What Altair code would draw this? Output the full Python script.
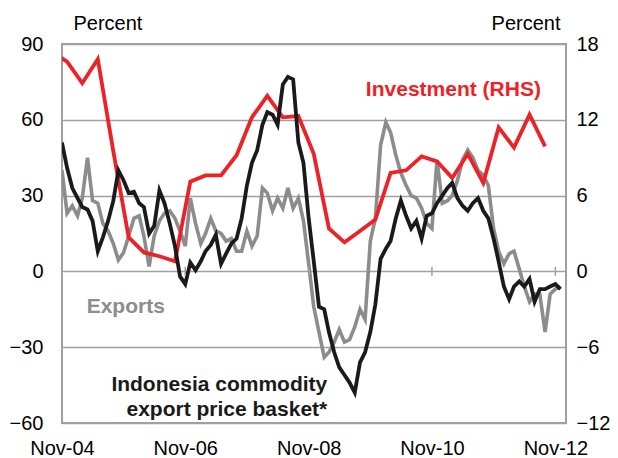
import altair as alt
import pandas as pd

# ---------------- data ----------------
months = pd.date_range("2004-11-01", periods=98, freq="MS")  # Nov-04 .. Dec-12

commodity = [51, 41, 33, 29, 25.5, 24.5, 20, 8, 13.5, 20,
             28, 40, 36, 31, 31.5, 27, 25.5, 15, 18, 32,
             27, 19, 10, -2, -5, 3.5, 0.5, 4, 8, 10.5,
             14.5, 3, 7, 11, 13, 21, 34, 43, 48, 58,
             63, 62, 58, 74, 77, 76, 51, 43, 21, 4,
             -14, -15, -24, -32, -38, -41, -44, -48, -36, -32,
             -24, -13, 5, 9, 12, 21, 28, 22, 17, 20,
             13, 22, 23, 27, 30, 33, 35, 29, 26, 24,
             27, 29, 24, 21, 13, 4, -6, -11, -6, -4,
             -6, -3, -12, -7, -7, -6, -5, -7]

exports = [40, 23, 26, 22, 29, 45, 28, 27, 19, 16,
           11, 4.5, 7.5, 14, 21, 22, 14, 2, 14, 20,
           23, 24, 21, 16, 10, 29, 19, 11, 15, 21,
           16, 15, 12, 13, 8, 8, 16, 10, 14, 33,
           31, 24, 29, 25, 33, 25, 29, 20, 3, -14,
           -24, -34, -32, -28, -23, -28, -27, -22, -15, -19,
           12, 21, 50, 59, 55, 46, 39, 34, 30, 29,
           25, 19, 17, 44, 27, 28, 30, 36, 44, 48,
           45, 40, 38, 34, 17, 8, 3, 7, 8, 1,
           -6, -12, -9, -9, -24, -9, -7, -6]

quarters = pd.date_range("2004-09-01", periods=33, freq="3MS")  # Sep-04 .. Sep-12
investment = [17.4, 16.6, 14.9, 16.8, 9.5, 2.7, 1.5, 1.2, 0.8, 7.1,
              7.6, 7.6, 9.2, 12.2, 13.9, 12.2, 12.3, 9.3, 3.4, 2.3,
              3.2, 4.1, 7.8, 8.0, 9.1, 8.7, 7.4, 9.3, 7.0, 11.4,
              9.8, 12.4, 9.9]

tick_dates = [(2004, 11), (2006, 11), (2008, 11), (2010, 11), (2012, 11)]
left_ticks = [-60, -30, 0, 30, 60, 90]
right_ticks = [-12, -6, 0, 6, 12, 18]

# ---------------- tables ----------------
monthly = pd.DataFrame({"date": months, "exports": exports, "commodity": commodity})
quarterly = pd.DataFrame({"date": quarters, "investment": investment})
ticks_df = pd.DataFrame({"date": [pd.Timestamp(y, m, 1) for y, m in tick_dates]})

FONT = "Liberation Sans"
GRAY = "#8c8c8e"
BLACK = "#1a1a1a"
RED = "#ec2227"
FRAME = "#a0a0a0"

x_enc = alt.X(
    "date:T",
    scale=alt.Scale(domain=[alt.DateTime(year=2004, month=11, date=1),
                            alt.DateTime(year=2013, month=1, date=3)]),
    axis=alt.Axis(values=[alt.DateTime(year=y, month=m, date=1) for y, m in tick_dates],
                  format="%b-%y", title=None, grid=False, ticks=False, domain=False,
                  labelPadding=15, labelFontSize=20, labelFont=FONT, labelColor="black",
                  labelFlush=False, labelOverlap=False),
)

lhs_scale = alt.Scale(domain=[-60, 90], nice=False, zero=False)
rhs_scale = alt.Scale(domain=[-12, 18], nice=False, zero=False)

gray_line = alt.Chart(monthly).mark_line(color=GRAY, strokeWidth=3.6, clip=True).encode(
    x=x_enc,
    y=alt.Y("exports:Q", scale=lhs_scale,
            axis=alt.Axis(values=left_ticks, title="Percent", titleAngle=0,
                          titleAlign="left", titleBaseline="alphabetic",
                          titleX=11, titleY=-15, titleFont=FONT, titleFontSize=20,
                          titleFontWeight="normal", titleColor="black",
                          grid=True, gridColor=FRAME, gridWidth=1.5,
                          ticks=False, domain=False, labelPadding=19,
                          labelFontSize=20, labelFont=FONT, labelColor="black",
                          orient="left")),
)

red_line = alt.Chart(quarterly).mark_line(color=RED, strokeWidth=3.8, clip=True).encode(
    x=x_enc,
    y=alt.Y("investment:Q", scale=rhs_scale,
            axis=alt.Axis(values=right_ticks, title="Percent", titleAngle=0,
                          titleAlign="right", titleBaseline="alphabetic",
                          titleX=-6, titleY=-15, titleFont=FONT, titleFontSize=20,
                          titleFontWeight="normal", titleColor="black",
                          grid=False, ticks=False, domain=False, labelPadding=10,
                          labelFontSize=20, labelFont=FONT, labelColor="black",
                          orient="right")),
)

black_line = alt.Chart(monthly).mark_line(color=BLACK, strokeWidth=3.8, clip=True).encode(
    x=x_enc,
    y=alt.Y("commodity:Q", scale=lhs_scale, axis=None),
)

zero_ticks = alt.Chart(ticks_df).mark_rule(color=FRAME, strokeWidth=1.5).encode(
    x=x_enc,
    y=alt.Y(datum=1.8, scale=lhs_scale, axis=None),
    y2=alt.datum(-1.8),
)

labels_inv = pd.DataFrame({"date": [pd.Timestamp(2011, 3, 8)], "v": [69.6],
                           "t": ["Investment (RHS)"]})
labels_exp = pd.DataFrame({"date": [pd.Timestamp(2005, 3, 27)], "v": [-16.6],
                           "t": ["Exports"]})
labels_com = pd.DataFrame({"date": [pd.Timestamp(2009, 2, 19)] * 2, "v": [-47.5, -57.4],
                           "t": ["Indonesia commodity", "export price basket*"]})

def text_layer(df, color, align):
    return alt.Chart(df).mark_text(
        color=color, align=align, baseline="alphabetic", font=FONT,
        fontSize=21, fontWeight="bold",
    ).encode(
        x=x_enc,
        y=alt.Y("v:Q", scale=lhs_scale, axis=None),
        text="t:N",
    )

chart = alt.layer(
    gray_line, red_line, black_line, zero_ticks,
    text_layer(labels_inv, RED, "center"),
    text_layer(labels_exp, GRAY, "left"),
    text_layer(labels_com, BLACK, "right"),
).resolve_scale(y="independent").properties(
    width=504, height=379,
    autosize=alt.AutoSizeParams(type="none"),
    padding={"left": 54, "top": 36, "right": 44, "bottom": 34},
).configure_view(stroke=FRAME, strokeWidth=2)

chart.save("out.html", embed_options={"renderer": "svg", "actions": False})
